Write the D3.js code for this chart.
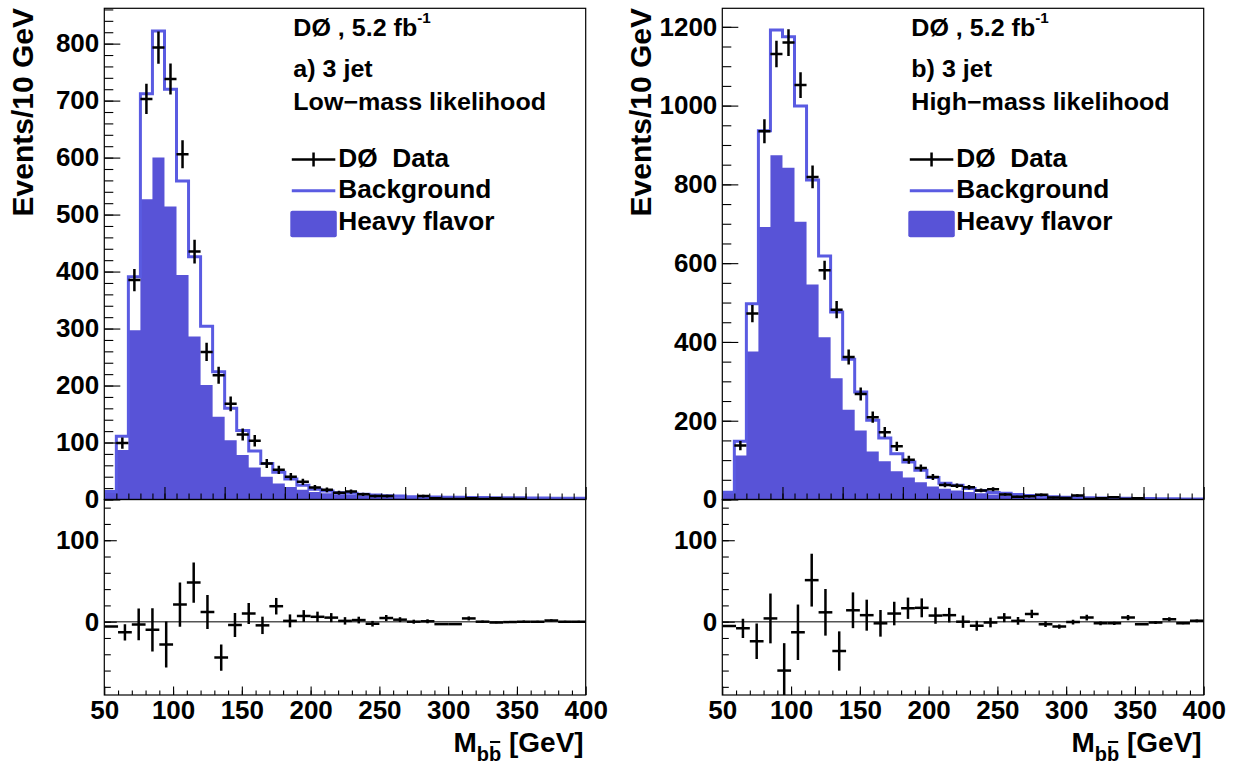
<!DOCTYPE html>
<html><head><meta charset="utf-8">
<script src="https://cdn.jsdelivr.net/npm/d3@7/dist/d3.min.js"></script>
<style>
body{margin:0;background:#fff}
text{font-family:"Liberation Sans",Arial,Helvetica,sans-serif;font-weight:bold;fill:#000;white-space:pre}
</style></head><body>
<svg id="c" width="1236" height="766"></svg>
<script>
// ---------- DATA ----------
const binWidth = 10;
const binLowTop = d3.range(50, 450, 10);   // 40 bins, 50-450 GeV (top panels)
const binLowRes = d3.range(50, 400, 10);   // 35 bins, 50-400 GeV (ratio panels)

// a) 3 jet, low-mass likelihood
const bkgLow  = [14,111,391,712,822,720,559,426,304,224,160,121,85,63,48,36,25,18,15,12,11,9,8,6.5,6,5,5,4.5,4,4,3.5,3.5,3,3,3,2.5,2.5,2,2,2];
const hfLow   = [12,87,297,527,600,514,394,286,201,145,104,78,56,40,28,22,17,13,11,9,8,6,5,5,4,4,3.5,3,3,2.5,2.5,2,2,2,1.5,1.5,1.5,1.2,1.2,1];
const dataLow = [null,99,385,703,793,738,606,435,259,218,168,114,103,63,52,40,31,21,17,12,14,9,6,6,0,0,6,2,1,1,2,1,2,1,1,0,0,0,0,0];
const resLow  = [-6,-13,-3.3,-10,-28,21,48,12,-44,-4,10,-4.5,19,1,7,6,5,1,2,-2.5,4.5,2.5,0,0.5,-3,-3,4,0,-1,-0.5,0,0,1.5,0,0];

// b) 3 jet, high-mass likelihood
const bkgHigh  = [18.6,148,497,936,1192,1175,999,811,618,476,356,273,201,156,116,95,74,56,41,36,28,23,18,16,13,10,8,7,6,5,4.5,4,3.5,3,2.5,2.5,2,2,1.5,1.5];
const hfHigh   = [18,112,376,692,874,842,705,546,412,308,228,175,122,97,72,56,44,33,27,23,19,16,13,10,8,6,5,4,3.5,3,2.5,2,1.8,1.5,1.2,1,0.8,0.6,0.5,0.4];
const dataHigh = [null,137,472,935,1131,1160,1052,819,582,482,362,268,209,171,135,101,80,57,37,35,31,23,26,13,7,8,12,5,4,10,1,3,6,1,3,0,0,0,0,0];
const resHigh  = [-5.3,-8.2,-24,4,-60,-13,51,11.5,-36,14,8,-2,10,16.5,17,7.5,8,0,-5,-1,5,1,9.5,-3,-6,-0.5,5,-2,-2,5,-3,-1,3,-2,1];

const yTicksLow  = [0,100,200,300,400,500,600,700,800];
const yTicksHigh = [0,200,400,600,800,1000,1200];
const resTicks   = [0,100];
const xTickLabels = [50,100,150,200,250,300,350,400];

const labelsLow  = ["a) 3 jet", "Low\u2212mass likelihood"];
const labelsHigh = ["b) 3 jet", "High\u2212mass likelihood"];
const legendLabels = ["D\u00d8  Data", "Background", "Heavy flavor"];

// ---------- STYLE ----------
const FILL = "#5853d7", LINE = "#5a5be2";
const svg = d3.select("#c");

function drawPanel(cfg) {
  const X0 = cfg.x0, X1 = cfg.x0 + 481.4;
  const TOP0 = 8.3, TOP1 = 499.5, BOT1 = 695;
  const g = svg.append("g");
  const xT = d3.scaleLinear().domain([50, 450]).range([X0, X1]);
  const xB = d3.scaleLinear().domain([50, 400]).range([X0, X1]);
  const yT = d3.scaleLinear().domain([0, cfg.yMax]).range([TOP1, TOP0]);
  const yB = d3.scaleLinear().domain([-90, 150]).range([BOT1, TOP1]);

  const clipId = "clip" + cfg.id;
  svg.append("clipPath").attr("id", clipId + "t").append("rect")
    .attr("x", X0).attr("y", TOP0).attr("width", X1 - X0).attr("height", TOP1 - TOP0);
  svg.append("clipPath").attr("id", clipId + "b").append("rect")
    .attr("x", X0).attr("y", TOP1).attr("width", X1 - X0).attr("height", BOT1 - TOP1);

  const gt = g.append("g").attr("clip-path", `url(#${clipId}t)`);
  const area = d3.area().x(d => xT(d[0])).y0(yT(0)).y1(d => yT(d[1]));
  const stepPts = vals => {
    const p = [];
    vals.forEach((v, i) => { p.push([binLowTop[i], v]); p.push([binLowTop[i] + binWidth, v]); });
    return p;
  };
  gt.append("path").datum(stepPts(cfg.hf)).attr("d", area).attr("fill", FILL);
  const linePts = [[50, 0]].concat(stepPts(cfg.bkg)).concat([[450, 0]]);
  gt.append("path").datum(linePts)
    .attr("d", d3.line().x(d => xT(d[0])).y(d => yT(d[1])))
    .attr("fill", "none").attr("stroke", LINE).attr("stroke-width", 3).attr("stroke-linejoin", "miter");
  cfg.data.forEach((v, i) => {
    if (v == null || v <= 0) return;
    const e = Math.sqrt(v), c = binLowTop[i] + binWidth / 2;
    gt.append("line").attr("x1", xT(binLowTop[i])).attr("x2", xT(binLowTop[i] + binWidth))
      .attr("y1", yT(v)).attr("y2", yT(v)).attr("stroke", "#000").attr("stroke-width", 2.5);
    gt.append("line").attr("x1", xT(c)).attr("x2", xT(c))
      .attr("y1", yT(v - e)).attr("y2", yT(v + e)).attr("stroke", "#000").attr("stroke-width", 2.5);
  });

  const gb = g.append("g").attr("clip-path", `url(#${clipId}b)`);
  gb.append("line").attr("x1", X0).attr("x2", X1).attr("y1", yB(0)).attr("y2", yB(0))
    .attr("stroke", "#555").attr("stroke-width", 1.5);
  cfg.res.forEach((r, i) => {
    const d = cfg.data[i];
    const e = d ? Math.sqrt(d) : 0, c = binLowRes[i] + binWidth / 2;
    gb.append("line").attr("x1", xB(binLowRes[i])).attr("x2", xB(binLowRes[i] + binWidth))
      .attr("y1", yB(r)).attr("y2", yB(r)).attr("stroke", "#000").attr("stroke-width", 2.5);
    if (e > 0) gb.append("line").attr("x1", xB(c)).attr("x2", xB(c))
      .attr("y1", yB(r - e)).attr("y2", yB(r + e)).attr("stroke", "#000").attr("stroke-width", 2.5);
  });

  g.append("rect").attr("x", X0).attr("y", TOP0).attr("width", X1 - X0).attr("height", TOP1 - TOP0)
    .attr("fill", "none").attr("stroke", "#000").attr("stroke-width", 1.2);
  g.append("rect").attr("x", X0).attr("y", TOP1).attr("width", X1 - X0).attr("height", BOT1 - TOP1)
    .attr("fill", "none").attr("stroke", "#000").attr("stroke-width", 1.2);

  const styleAxis = (sel, fs) => {
    sel.select(".domain").remove();
    sel.selectAll("line").attr("stroke", "#000").attr("stroke-width", 1.1);
    sel.selectAll("text").style("font-size", fs + "px").attr("fill", "#000");
  };
  const fmt = d3.format("d");
  g.append("g").attr("transform", `translate(${X0},0)`)
    .call(d3.axisLeft(yT).tickValues(cfg.yTicks).tickFormat(fmt).tickSize(-16).tickPadding(5))
    .call(s => styleAxis(s, 26));
  g.append("g").attr("transform", `translate(${X0},0)`)
    .call(d3.axisLeft(yT).tickValues(d3.range(0, cfg.yMax, cfg.minor)).tickSize(-9).tickFormat(""))
    .call(s => styleAxis(s, 26));
  g.append("g").attr("transform", `translate(0,${TOP1})`)
    .call(d3.axisBottom(xT).tickValues(d3.range(100, 451, 50)).tickSize(-12.5).tickFormat(""))
    .call(s => styleAxis(s, 26));
  g.append("g").attr("transform", `translate(0,${TOP1})`)
    .call(d3.axisBottom(xT).tickValues(d3.range(60, 450, 10)).tickSize(-6).tickFormat(""))
    .call(s => styleAxis(s, 26));
  g.append("g").attr("transform", `translate(${X0},0)`)
    .call(d3.axisLeft(yB).tickValues(resTicks).tickFormat(fmt).tickSize(-12.5).tickPadding(5))
    .call(s => styleAxis(s, 26));
  g.append("g").attr("transform", `translate(${X0},0)`)
    .call(d3.axisLeft(yB).tickValues(d3.range(-80, 150, 20)).tickSize(-6.5).tickFormat(""))
    .call(s => styleAxis(s, 26));
  g.append("g").attr("transform", `translate(0,${BOT1})`)
    .call(d3.axisBottom(xB).tickValues(xTickLabels).tickFormat(fmt).tickSize(-8.5).tickPadding(6))
    .call(s => styleAxis(s, 26));
  g.append("g").attr("transform", `translate(0,${BOT1})`)
    .call(d3.axisBottom(xB).tickValues(d3.range(60, 400, 10)).tickSize(-4.5).tickFormat(""))
    .call(s => styleAxis(s, 26));

  // axis titles
  g.append("text").attr("transform", `translate(${X0 - 71},8) rotate(-90)`)
    .attr("text-anchor", "end").style("font-size", "30px").text("Events/10 GeV");
  const xt = g.append("text").attr("x", X1 - 2).attr("y", 752).attr("text-anchor", "end").style("font-size", "28px");
  xt.append("tspan").text("M");
  xt.append("tspan").attr("dy", 9).style("font-size", "20px").text("bb");
  xt.append("tspan").attr("dy", -9).text(" [GeV]");
  const ext = xt.node().getExtentOfChar(2);
  g.append("line").attr("x1", ext.x + 1).attr("x2", ext.x + ext.width - 1)
    .attr("y1", ext.y - 1).attr("y2", ext.y - 1).attr("stroke", "#000").attr("stroke-width", 2);

  // annotations (slightly widened like the original)
  const TX = X0 + 189;
  const ann = (y, fs, sx) => g.append("text")
    .attr("transform", `translate(${TX},${y}) scale(${sx},1)`).style("font-size", fs + "px");
  const t1 = ann(36, 23, 1.09);
  t1.append("tspan").text("D\u00d8 , 5.2 fb");
  t1.append("tspan").attr("dy", -13).style("font-size", "14px").text("-1");
  ann(77, 23, 1.09).text(cfg.labels[0]);
  ann(110, 23, 1.09).text(cfg.labels[1]);

  // legend
  const LX = X0 + 187.5, LW = 43.5, TXL = X0 + 234;
  g.append("line").attr("x1", LX).attr("x2", LX + LW).attr("y1", 159.5).attr("y2", 159.5).attr("stroke", "#000").attr("stroke-width", 2.5);
  g.append("line").attr("x1", LX + LW / 2).attr("x2", LX + LW / 2).attr("y1", 152.5).attr("y2", 166.5).attr("stroke", "#000").attr("stroke-width", 2.5);
  g.append("line").attr("x1", LX).attr("x2", LX + LW).attr("y1", 190.7).attr("y2", 190.7).attr("stroke", LINE).attr("stroke-width", 3);
  g.append("rect").attr("x", LX - 1.5).attr("y", 210.7).attr("width", LW + 3).attr("height", 26.6).attr("rx", 2).attr("fill", FILL);
  [166.7, 198.3, 230].forEach((y, i) =>
    g.append("text").attr("transform", `translate(${TXL},${y}) scale(1.05,1)`)
      .style("font-size", "25px").text(legendLabels[i]));
}

drawPanel({id: "L", x0: 104.3, yMax: 862, minor: 20, yTicks: yTicksLow,
  bkg: bkgLow, hf: hfLow, data: dataLow, res: resLow, labels: labelsLow});
drawPanel({id: "R", x0: 722.3, yMax: 1247, minor: 50, yTicks: yTicksHigh,
  bkg: bkgHigh, hf: hfHigh, data: dataHigh, res: resHigh, labels: labelsHigh});
</script></body></html>
